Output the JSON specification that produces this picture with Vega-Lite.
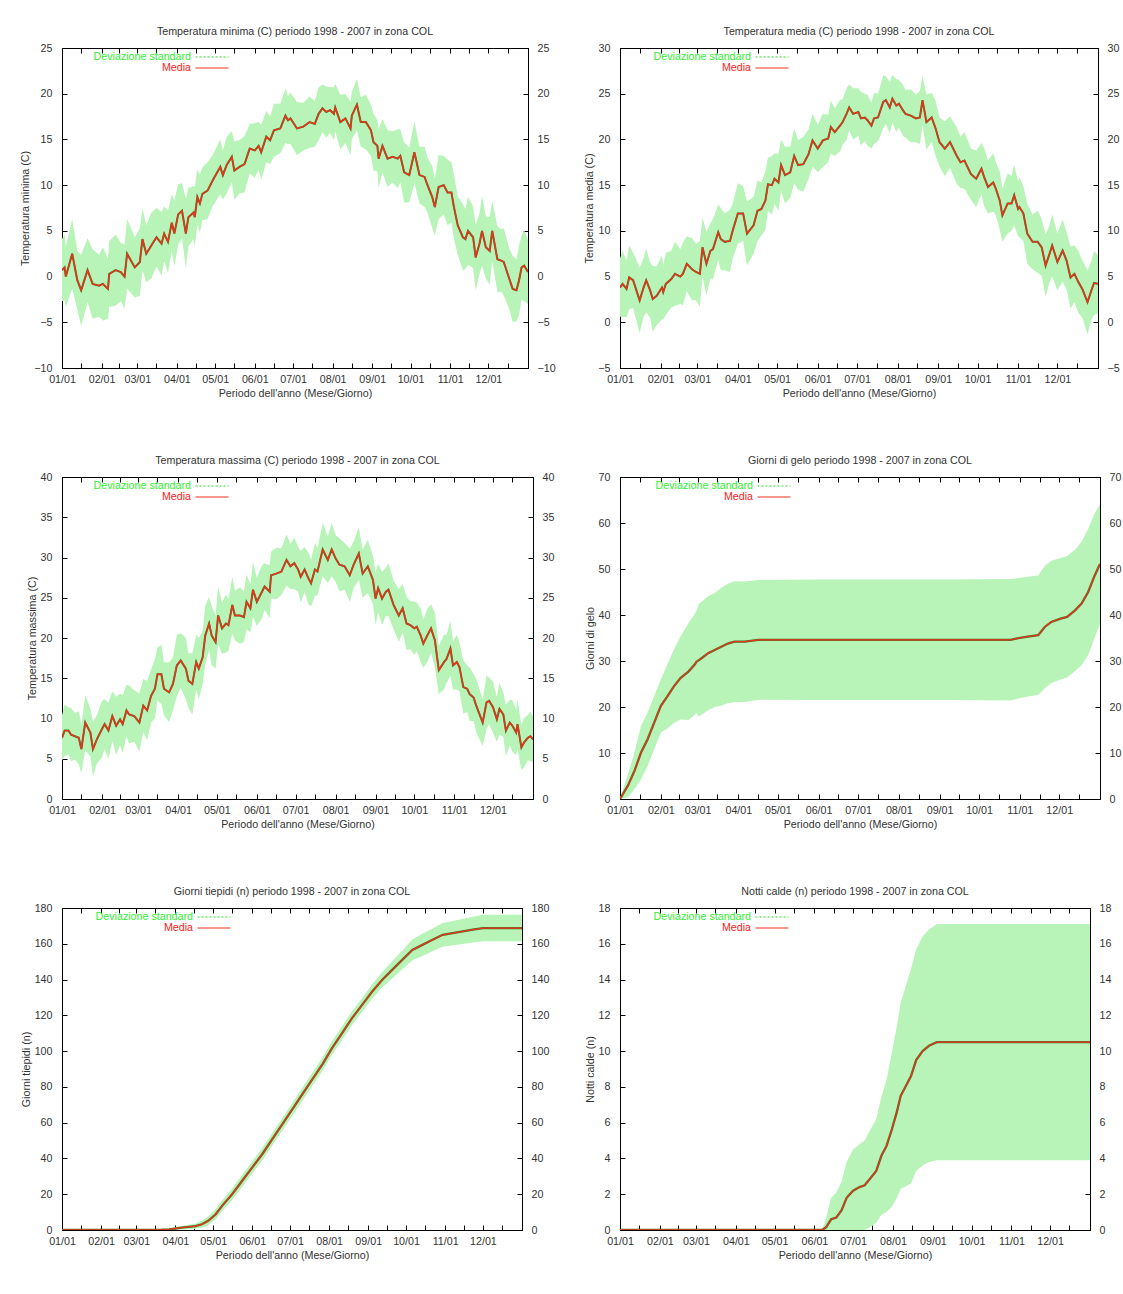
{
"$schema": "https://vega.github.io/schema/vega-lite/v6.json",
"padding": {"left": 19, "top": 25, "right": 5, "bottom": 5},
"background": "white",
"columns": 2,
"align": "each",
"bounds": "flush",
"spacing": {"row": 109, "column": 87},
"resolve": {"scale": {"color": "independent"}, "legend": {"color": "independent"}},
"datasets": {
"p1": [{"d":0,"m":0.7,"s":3.4},{"d":2,"m":1.0,"s":3.6},{"d":3,"m":0.0,"s":3.3},{"d":8,"m":2.5,"s":3.8},{"d":12,"m":-0.4,"s":3.2},{"d":15,"m":-1.5,"s":3.9},{"d":20,"m":0.7,"s":3.5},{"d":24,"m":-0.8,"s":3.8},{"d":29,"m":-1.0,"s":3.4},{"d":32,"m":-0.8,"s":4.0},{"d":36,"m":-1.35,"s":3.3},{"d":37,"m":0.3,"s":3.6},{"d":42,"m":0.7,"s":3.9},{"d":46,"m":0.5,"s":3.2},{"d":49,"m":0.0,"s":3.5},{"d":51,"m":2.5,"s":3.8},{"d":57,"m":1.0,"s":3.3},{"d":61,"m":1.6,"s":3.7},{"d":63,"m":4.1,"s":3.4},{"d":66,"m":2.5,"s":3.1},{"d":70,"m":3.4,"s":3.6},{"d":74,"m":4.3,"s":3.2},{"d":78,"m":3.6,"s":3.5},{"d":80,"m":4.7,"s":3.0},{"d":83,"m":3.8,"s":3.4},{"d":86,"m":5.9,"s":3.1},{"d":88,"m":4.7,"s":3.6},{"d":91,"m":6.8,"s":3.3},{"d":94,"m":7.2,"s":3.0},{"d":97,"m":4.7,"s":3.8},{"d":99,"m":6.5,"s":3.2},{"d":103,"m":7.0,"s":2.9},{"d":104,"m":6.5,"s":3.3},{"d":106,"m":8.7,"s":3.0},{"d":108,"m":8.0,"s":3.2},{"d":110,"m":9.05,"s":2.9},{"d":114,"m":9.4,"s":3.1},{"d":118,"m":10.5,"s":2.8},{"d":124,"m":12.0,"s":3.0},{"d":126,"m":11.1,"s":2.7},{"d":129,"m":12.2,"s":3.1},{"d":133,"m":13.1,"s":2.8},{"d":135,"m":11.6,"s":3.2},{"d":139,"m":12.0,"s":2.9},{"d":143,"m":12.3,"s":3.1},{"d":147,"m":14.0,"s":2.7},{"d":151,"m":13.8,"s":3.0},{"d":154,"m":14.3,"s":2.6},{"d":156,"m":13.6,"s":3.0},{"d":160,"m":15.3,"s":2.8},{"d":163,"m":14.9,"s":2.6},{"d":166,"m":16.0,"s":2.9},{"d":171,"m":16.2,"s":2.7},{"d":175,"m":17.6,"s":3.0},{"d":177,"m":17.1,"s":2.6},{"d":179,"m":17.3,"s":2.8},{"d":184,"m":16.2,"s":2.9},{"d":189,"m":16.4,"s":2.6},{"d":194,"m":16.9,"s":2.8},{"d":198,"m":16.7,"s":2.5},{"d":201,"m":17.8,"s":2.9},{"d":204,"m":18.4,"s":2.6},{"d":207,"m":18.0,"s":2.8},{"d":210,"m":18.2,"s":2.5},{"d":213,"m":17.8,"s":2.9},{"d":214,"m":18.5,"s":2.6},{"d":218,"m":16.9,"s":3.0},{"d":222,"m":17.3,"s":2.7},{"d":226,"m":16.2,"s":2.9},{"d":227,"m":17.6,"s":2.6},{"d":231,"m":18.8,"s":2.8},{"d":234,"m":16.9,"s":2.7},{"d":238,"m":16.9,"s":3.0},{"d":242,"m":16.0,"s":2.8},{"d":244,"m":14.7,"s":3.1},{"d":247,"m":14.3,"s":2.8},{"d":248,"m":12.9,"s":3.2},{"d":251,"m":14.3,"s":2.9},{"d":255,"m":12.9,"s":3.1},{"d":259,"m":13.1,"s":2.8},{"d":263,"m":12.9,"s":3.2},{"d":265,"m":13.2,"s":2.9},{"d":268,"m":11.4,"s":3.3},{"d":272,"m":11.1,"s":3.0},{"d":276,"m":13.6,"s":3.4},{"d":280,"m":11.1,"s":3.1},{"d":284,"m":10.9,"s":3.3},{"d":286,"m":10.1,"s":3.0},{"d":290,"m":8.7,"s":3.4},{"d":292,"m":7.6,"s":3.1},{"d":295,"m":9.8,"s":3.5},{"d":299,"m":10.0,"s":3.2},{"d":302,"m":9.2,"s":3.6},{"d":305,"m":9.2,"s":3.3},{"d":307,"m":7.6,"s":3.5},{"d":310,"m":5.6,"s":3.2},{"d":314,"m":4.3,"s":3.6},{"d":316,"m":4.1,"s":3.3},{"d":318,"m":5.0,"s":3.7},{"d":322,"m":4.3,"s":3.4},{"d":324,"m":2.1,"s":3.6},{"d":327,"m":3.6,"s":3.3},{"d":329,"m":5.0,"s":3.8},{"d":332,"m":3.2,"s":3.4},{"d":335,"m":2.8,"s":3.7},{"d":337,"m":5.0,"s":3.3},{"d":341,"m":1.9,"s":3.6},{"d":344,"m":1.75,"s":3.4},{"d":346,"m":1.6,"s":3.7},{"d":350,"m":-0.1,"s":3.3},{"d":353,"m":-1.35,"s":3.6},{"d":356,"m":-1.5,"s":3.4},{"d":358,"m":-0.4,"s":3.8},{"d":360,"m":1.0,"s":3.5},{"d":362,"m":1.2,"s":3.9},{"d":365,"m":0.5,"s":3.5}],
"p2": [{"d":0,"m":3.8,"s":3.2},{"d":2,"m":4.2,"s":3.6},{"d":5,"m":3.65,"s":3.1},{"d":7,"m":4.9,"s":3.5},{"d":10,"m":4.6,"s":3.0},{"d":15,"m":2.4,"s":3.6},{"d":18,"m":3.8,"s":3.2},{"d":20,"m":4.6,"s":3.5},{"d":23,"m":3.5,"s":3.0},{"d":25,"m":2.55,"s":3.6},{"d":28,"m":2.9,"s":3.2},{"d":32,"m":3.8,"s":3.5},{"d":33,"m":3.3,"s":3.0},{"d":35,"m":4.2,"s":3.4},{"d":39,"m":4.7,"s":3.1},{"d":42,"m":5.3,"s":3.5},{"d":46,"m":5.0,"s":3.0},{"d":48,"m":5.3,"s":3.4},{"d":51,"m":6.4,"s":3.0},{"d":55,"m":5.8,"s":3.4},{"d":58,"m":5.5,"s":3.1},{"d":61,"m":5.3,"s":3.6},{"d":63,"m":8.2,"s":3.2},{"d":66,"m":6.4,"s":3.5},{"d":69,"m":7.8,"s":3.0},{"d":71,"m":8.0,"s":3.3},{"d":75,"m":9.85,"s":3.0},{"d":77,"m":9.1,"s":3.4},{"d":80,"m":8.8,"s":3.1},{"d":84,"m":8.9,"s":3.4},{"d":86,"m":10.0,"s":3.0},{"d":90,"m":11.9,"s":3.3},{"d":94,"m":11.9,"s":3.0},{"d":97,"m":9.7,"s":3.5},{"d":102,"m":10.6,"s":3.1},{"d":105,"m":12.2,"s":3.3},{"d":108,"m":12.4,"s":2.9},{"d":111,"m":13.3,"s":3.2},{"d":113,"m":15.1,"s":2.9},{"d":116,"m":15.0,"s":3.2},{"d":118,"m":15.7,"s":2.8},{"d":121,"m":15.3,"s":3.1},{"d":123,"m":17.2,"s":2.8},{"d":126,"m":16.1,"s":3.1},{"d":130,"m":16.4,"s":2.8},{"d":133,"m":18.2,"s":3.0},{"d":136,"m":17.2,"s":2.7},{"d":140,"m":17.3,"s":3.0},{"d":144,"m":18.4,"s":2.7},{"d":147,"m":19.9,"s":2.9},{"d":151,"m":19.0,"s":2.6},{"d":155,"m":19.9,"s":2.9},{"d":159,"m":20.1,"s":2.6},{"d":161,"m":21.35,"s":2.9},{"d":164,"m":20.8,"s":2.6},{"d":168,"m":21.5,"s":2.8},{"d":170,"m":21.9,"s":2.5},{"d":173,"m":22.8,"s":2.8},{"d":175,"m":23.5,"s":2.5},{"d":178,"m":22.8,"s":2.8},{"d":182,"m":23.0,"s":2.6},{"d":184,"m":22.3,"s":2.9},{"d":187,"m":22.4,"s":2.6},{"d":189,"m":22.1,"s":2.8},{"d":192,"m":21.5,"s":2.5},{"d":194,"m":22.3,"s":2.8},{"d":197,"m":22.4,"s":2.6},{"d":201,"m":24.1,"s":2.9},{"d":203,"m":24.3,"s":2.6},{"d":206,"m":23.5,"s":2.8},{"d":208,"m":24.45,"s":2.6},{"d":211,"m":23.7,"s":2.9},{"d":213,"m":23.9,"s":2.6},{"d":216,"m":23.2,"s":2.8},{"d":218,"m":22.8,"s":2.6},{"d":222,"m":22.6,"s":2.9},{"d":226,"m":22.3,"s":2.6},{"d":229,"m":22.4,"s":2.9},{"d":231,"m":24.3,"s":2.7},{"d":234,"m":21.9,"s":3.0},{"d":238,"m":22.4,"s":2.7},{"d":241,"m":21.2,"s":3.0},{"d":244,"m":19.7,"s":2.7},{"d":248,"m":19.0,"s":3.0},{"d":252,"m":19.7,"s":2.8},{"d":257,"m":18.25,"s":3.1},{"d":260,"m":17.5,"s":2.8},{"d":263,"m":17.7,"s":3.1},{"d":268,"m":16.2,"s":2.8},{"d":272,"m":15.7,"s":3.1},{"d":276,"m":16.8,"s":2.8},{"d":278,"m":15.9,"s":3.2},{"d":281,"m":14.8,"s":2.9},{"d":285,"m":15.3,"s":3.2},{"d":287,"m":14.6,"s":2.9},{"d":290,"m":13.3,"s":3.2},{"d":292,"m":11.7,"s":2.9},{"d":296,"m":13.0,"s":3.3},{"d":299,"m":13.0,"s":3.0},{"d":301,"m":13.9,"s":3.3},{"d":304,"m":12.4,"s":3.0},{"d":305,"m":12.6,"s":3.3},{"d":308,"m":11.9,"s":3.0},{"d":311,"m":9.7,"s":3.3},{"d":315,"m":8.8,"s":3.0},{"d":319,"m":8.8,"s":3.4},{"d":322,"m":8.2,"s":3.1},{"d":325,"m":6.2,"s":3.4},{"d":328,"m":7.5,"s":3.1},{"d":330,"m":8.4,"s":3.4},{"d":334,"m":6.6,"s":3.1},{"d":338,"m":7.85,"s":3.4},{"d":341,"m":6.75,"s":3.1},{"d":344,"m":4.9,"s":3.4},{"d":347,"m":5.3,"s":3.1},{"d":350,"m":4.4,"s":3.4},{"d":353,"m":3.65,"s":3.1},{"d":357,"m":2.2,"s":3.5},{"d":360,"m":3.5,"s":3.2},{"d":362,"m":4.3,"s":3.5},{"d":365,"m":4.2,"s":3.2}],
"p3": [{"d":0,"m":7.6,"s":2.8},{"d":2,"m":8.5,"s":3.2},{"d":5,"m":8.5,"s":2.9},{"d":7,"m":8.0,"s":3.3},{"d":10,"m":7.8,"s":2.9},{"d":13,"m":7.6,"s":3.3},{"d":15,"m":6.2,"s":3.0},{"d":18,"m":9.5,"s":3.4},{"d":22,"m":8.25,"s":3.0},{"d":24,"m":6.2,"s":3.4},{"d":27,"m":7.4,"s":3.0},{"d":31,"m":8.7,"s":3.5},{"d":33,"m":9.3,"s":3.1},{"d":36,"m":8.5,"s":3.5},{"d":39,"m":10.3,"s":3.1},{"d":42,"m":9.1,"s":3.6},{"d":45,"m":9.9,"s":3.2},{"d":47,"m":9.3,"s":3.6},{"d":50,"m":11.0,"s":3.2},{"d":52,"m":10.5,"s":3.6},{"d":56,"m":10.3,"s":3.2},{"d":60,"m":9.5,"s":3.6},{"d":63,"m":11.6,"s":3.3},{"d":66,"m":11.0,"s":3.7},{"d":69,"m":12.8,"s":3.3},{"d":72,"m":13.7,"s":3.7},{"d":74,"m":15.5,"s":3.3},{"d":77,"m":15.5,"s":3.7},{"d":79,"m":13.7,"s":3.3},{"d":83,"m":13.25,"s":3.7},{"d":86,"m":14.3,"s":3.3},{"d":89,"m":16.6,"s":3.8},{"d":92,"m":17.2,"s":3.4},{"d":96,"m":16.2,"s":3.8},{"d":98,"m":14.7,"s":3.4},{"d":101,"m":14.3,"s":3.8},{"d":104,"m":17.0,"s":3.4},{"d":106,"m":16.2,"s":3.8},{"d":109,"m":17.6,"s":3.3},{"d":111,"m":20.3,"s":3.7},{"d":114,"m":21.8,"s":3.3},{"d":116,"m":20.3,"s":3.7},{"d":119,"m":19.5,"s":3.3},{"d":121,"m":22.8,"s":3.6},{"d":124,"m":21.2,"s":3.2},{"d":127,"m":21.8,"s":3.6},{"d":129,"m":21.6,"s":3.2},{"d":132,"m":24.1,"s":3.5},{"d":134,"m":22.8,"s":3.1},{"d":138,"m":22.8,"s":3.5},{"d":141,"m":22.6,"s":3.1},{"d":143,"m":24.5,"s":3.4},{"d":146,"m":23.7,"s":3.0},{"d":148,"m":26.0,"s":3.4},{"d":151,"m":24.5,"s":3.0},{"d":155,"m":25.75,"s":3.3},{"d":157,"m":26.4,"s":2.9},{"d":161,"m":25.75,"s":3.3},{"d":162,"m":27.8,"s":2.9},{"d":166,"m":28.0,"s":3.2},{"d":170,"m":28.25,"s":2.9},{"d":174,"m":29.7,"s":3.2},{"d":177,"m":28.9,"s":2.8},{"d":180,"m":29.3,"s":3.2},{"d":183,"m":28.5,"s":2.8},{"d":185,"m":27.6,"s":3.2},{"d":188,"m":28.5,"s":2.8},{"d":191,"m":27.4,"s":3.2},{"d":193,"m":26.8,"s":2.9},{"d":196,"m":28.5,"s":3.3},{"d":198,"m":28.25,"s":2.9},{"d":202,"m":31.0,"s":3.3},{"d":206,"m":29.7,"s":2.9},{"d":209,"m":31.0,"s":3.3},{"d":212,"m":29.9,"s":2.9},{"d":215,"m":29.1,"s":3.3},{"d":219,"m":28.9,"s":2.9},{"d":223,"m":27.8,"s":3.3},{"d":226,"m":29.1,"s":2.9},{"d":230,"m":30.5,"s":3.3},{"d":233,"m":28.0,"s":3.0},{"d":237,"m":28.9,"s":3.3},{"d":241,"m":27.2,"s":3.0},{"d":243,"m":24.9,"s":3.3},{"d":245,"m":26.2,"s":3.0},{"d":248,"m":24.9,"s":3.3},{"d":251,"m":25.75,"s":3.0},{"d":253,"m":26.0,"s":3.3},{"d":257,"m":24.1,"s":3.0},{"d":261,"m":22.8,"s":3.3},{"d":264,"m":23.7,"s":3.0},{"d":267,"m":21.8,"s":3.3},{"d":270,"m":21.6,"s":3.0},{"d":273,"m":21.2,"s":3.3},{"d":275,"m":21.4,"s":3.0},{"d":278,"m":20.3,"s":3.3},{"d":280,"m":19.3,"s":3.0},{"d":283,"m":20.3,"s":3.3},{"d":286,"m":21.2,"s":3.0},{"d":289,"m":19.7,"s":3.4},{"d":292,"m":16.0,"s":3.0},{"d":296,"m":17.0,"s":3.4},{"d":298,"m":17.4,"s":3.0},{"d":301,"m":18.7,"s":3.4},{"d":303,"m":16.6,"s":3.0},{"d":306,"m":17.0,"s":3.4},{"d":308,"m":16.4,"s":3.0},{"d":311,"m":13.9,"s":3.3},{"d":314,"m":13.7,"s":2.9},{"d":316,"m":13.0,"s":3.3},{"d":319,"m":12.6,"s":2.9},{"d":321,"m":11.6,"s":3.3},{"d":326,"m":9.5,"s":2.9},{"d":329,"m":12.0,"s":3.3},{"d":331,"m":12.2,"s":2.9},{"d":334,"m":11.4,"s":3.2},{"d":337,"m":9.9,"s":2.8},{"d":339,"m":11.2,"s":3.2},{"d":342,"m":10.5,"s":2.8},{"d":344,"m":8.5,"s":3.2},{"d":347,"m":9.5,"s":2.8},{"d":349,"m":9.1,"s":3.2},{"d":352,"m":8.25,"s":2.8},{"d":353,"m":9.3,"s":3.1},{"d":356,"m":6.4,"s":2.8},{"d":358,"m":7.0,"s":3.1},{"d":361,"m":7.6,"s":2.8},{"d":363,"m":7.8,"s":3.1},{"d":365,"m":7.4,"s":2.8}],
"p4": [{"d":0,"m":0,"s":0},{"d":6,"m":2.9,"s":2.5},{"d":11,"m":6.1,"s":4.0},{"d":16,"m":10.1,"s":5.8},{"d":21,"m":13.0,"s":5.8},{"d":26,"m":16.6,"s":5.8},{"d":31,"m":20.2,"s":5.8},{"d":36,"m":22.3,"s":7.0},{"d":41,"m":24.5,"s":8.0},{"d":46,"m":26.3,"s":9.0},{"d":52,"m":27.7,"s":10.5},{"d":57,"m":29.3,"s":11.0},{"d":58,"m":29.8,"s":11.0},{"d":60,"m":30.2,"s":12.3},{"d":62,"m":30.6,"s":12.3},{"d":67,"m":31.7,"s":12.4},{"d":72,"m":32.4,"s":12.4},{"d":77,"m":33.1,"s":12.8},{"d":82,"m":33.8,"s":13.0},{"d":87,"m":34.2,"s":13.15},{"d":95,"m":34.2,"s":13.1},{"d":105,"m":34.6,"s":13.0},{"d":150,"m":34.6,"s":13.1},{"d":200,"m":34.6,"s":13.1},{"d":250,"m":34.6,"s":13.1},{"d":297,"m":34.6,"s":13.2},{"d":302,"m":34.9,"s":13.1},{"d":310,"m":35.3,"s":13.0},{"d":318,"m":35.6,"s":13.0},{"d":323,"m":37.4,"s":13.3},{"d":328,"m":38.5,"s":13.3},{"d":335,"m":39.2,"s":13.2},{"d":340,"m":39.6,"s":13.2},{"d":346,"m":41.0,"s":13.2},{"d":351,"m":42.5,"s":13.4},{"d":356,"m":45.0,"s":13.7},{"d":361,"m":48.6,"s":13.5},{"d":365,"m":51.1,"s":13.0}],
"p5": [{"d":0,"m":0,"s":0},{"d":40,"m":0,"s":0},{"d":79,"m":0.2,"s":0.3},{"d":85,"m":0.4,"s":0.5},{"d":95,"m":1.3,"s":1.0},{"d":106,"m":2.2,"s":1.5},{"d":111,"m":3.2,"s":2.0},{"d":116,"m":5.1,"s":2.5},{"d":122,"m":8.8,"s":3.0},{"d":127,"m":13.5,"s":3.0},{"d":135,"m":20.0,"s":3.2},{"d":143,"m":27.5,"s":3.3},{"d":151,"m":35.0,"s":3.4},{"d":159,"m":42.5,"s":3.5},{"d":167,"m":50.9,"s":3.5},{"d":175,"m":59.3,"s":3.5},{"d":183,"m":67.7,"s":3.6},{"d":191,"m":76.2,"s":3.6},{"d":199,"m":84.6,"s":3.7},{"d":207,"m":93.0,"s":3.7},{"d":214,"m":101.4,"s":3.8},{"d":222,"m":109.8,"s":3.8},{"d":230,"m":118.3,"s":3.9},{"d":238,"m":125.7,"s":3.9},{"d":246,"m":133.2,"s":4.0},{"d":254,"m":139.8,"s":4.3},{"d":262,"m":145.4,"s":4.8},{"d":270,"m":151.0,"s":5.3},{"d":278,"m":156.6,"s":5.8},{"d":286,"m":159.4,"s":6.2},{"d":294,"m":162.2,"s":6.4},{"d":302,"m":165.0,"s":6.6},{"d":310,"m":166.0,"s":6.8},{"d":318,"m":166.9,"s":7.0},{"d":326,"m":167.9,"s":7.2},{"d":334,"m":168.8,"s":7.4},{"d":347,"m":168.8,"s":7.4},{"d":365,"m":168.8,"s":7.4}],
"p6": [{"d":0,"m":0,"s":0},{"d":100,"m":0,"s":0},{"d":157,"m":0,"s":0},{"d":160,"m":0.15,"s":0.5},{"d":164,"m":0.6,"s":1.2},{"d":168,"m":0.7,"s":1.4},{"d":172,"m":1.1,"s":1.6},{"d":176,"m":1.8,"s":2.0},{"d":181,"m":2.2,"s":2.3},{"d":186,"m":2.4,"s":2.4},{"d":190,"m":2.5,"s":2.5},{"d":194,"m":2.85,"s":2.7},{"d":199,"m":3.3,"s":2.9},{"d":203,"m":4.15,"s":3.3},{"d":207,"m":4.7,"s":3.7},{"d":211,"m":5.6,"s":4.3},{"d":215,"m":6.6,"s":4.8},{"d":218,"m":7.5,"s":5.2},{"d":222,"m":8.05,"s":5.6},{"d":226,"m":8.6,"s":6.0},{"d":230,"m":9.5,"s":6.2},{"d":235,"m":10.0,"s":6.4},{"d":240,"m":10.3,"s":6.5},{"d":246,"m":10.5,"s":6.6},{"d":251,"m":10.5,"s":6.6},{"d":300,"m":10.5,"s":6.6},{"d":365,"m":10.5,"s":6.6}]
},
"concat": [
{"title": "Temperatura minima (C) periodo 1998 - 2007 in zona COL", "width": 466, "height": 320, "data": {"name": "p1"},
 "layer": [
  {"mark": {"type": "errorband", "borders": false, "band": {"color": "#b8f3b8", "opacity": 1}, "clip": true},
   "encoding": {"x": {"field": "d", "type": "quantitative", "scale": {"domain": [0, 365], "nice": false, "zero": false}, "axis": {"orient": "bottom", "title": "Periodo dell'anno (Mese/Giorno)", "values": [0,15,31,45,59,74,90,105,120,135,151,166,181,196,212,227,243,258,273,288,304,319,334,349], "labelExpr": "indexof([0,31,59,90,120,151,181,212,243,273,304,334], datum.value) >= 0 ? timeFormat(datetime(2001,0,1+datum.value),'%m/%d') : ''", "labelFlush": false, "labelOverlap": false}},
    "y": {"field": "m", "type": "quantitative", "scale": {"domain": [-10, 25], "nice": false, "zero": false}, "axis": {"orient": "left", "title": "Temperatura minima (C)", "values": [-10,-5,0,5,10,15,20,25]}},
    "yError": {"field": "s"}}},
  {"mark": {"type": "line", "color": "#3f7a28", "strokeWidth": 2.0, "clip": true},
   "encoding": {"x": {"field": "d", "type": "quantitative", "axis": {"orient": "top", "labels": false, "title": null, "values": [0,15,31,45,59,74,90,105,120,135,151,166,181,196,212,227,243,258,273,288,304,319,334,349]}},
    "y": {"field": "m", "type": "quantitative", "axis": {"orient": "right", "title": null, "values": [-10,-5,0,5,10,15,20,25]}}}},
  {"mark": {"type": "line", "strokeWidth": 1.4, "clip": true},
   "encoding": {"x": {"field": "d", "type": "quantitative", "axis": null}, "y": {"field": "m", "type": "quantitative", "axis": null},
    "color": {"datum": "Media", "scale": {"domain": ["Deviazione standard", "Media"], "range": ["#22dd22", "#f0301a"]}, "legend": {"title": null, "orient": "none", "legendX": 144, "legendY": 3}}}}
 ],
 "resolve": {"axis": {"x": "independent", "y": "independent"}}},
{"title": "Temperatura media (C) periodo 1998 - 2007 in zona COL", "width": 478, "height": 320, "data": {"name": "p2"},
 "layer": [
  {"mark": {"type": "errorband", "borders": false, "band": {"color": "#b8f3b8", "opacity": 1}, "clip": true},
   "encoding": {"x": {"field": "d", "type": "quantitative", "scale": {"domain": [0, 365], "nice": false, "zero": false}, "axis": {"orient": "bottom", "title": "Periodo dell'anno (Mese/Giorno)", "values": [0,15,31,45,59,74,90,105,120,135,151,166,181,196,212,227,243,258,273,288,304,319,334,349], "labelExpr": "indexof([0,31,59,90,120,151,181,212,243,273,304,334], datum.value) >= 0 ? timeFormat(datetime(2001,0,1+datum.value),'%m/%d') : ''", "labelFlush": false, "labelOverlap": false}},
    "y": {"field": "m", "type": "quantitative", "scale": {"domain": [-5, 30], "nice": false, "zero": false}, "axis": {"orient": "left", "title": "Temperatura media (C)", "values": [-5,0,5,10,15,20,25,30]}},
    "yError": {"field": "s"}}},
  {"mark": {"type": "line", "color": "#3f7a28", "strokeWidth": 2.0, "clip": true},
   "encoding": {"x": {"field": "d", "type": "quantitative", "axis": {"orient": "top", "labels": false, "title": null, "values": [0,15,31,45,59,74,90,105,120,135,151,166,181,196,212,227,243,258,273,288,304,319,334,349]}},
    "y": {"field": "m", "type": "quantitative", "axis": {"orient": "right", "title": null, "values": [-5,0,5,10,15,20,25,30]}}}},
  {"mark": {"type": "line", "strokeWidth": 1.4, "clip": true},
   "encoding": {"x": {"field": "d", "type": "quantitative", "axis": null}, "y": {"field": "m", "type": "quantitative", "axis": null},
    "color": {"datum": "Media", "scale": {"domain": ["Deviazione standard", "Media"], "range": ["#22dd22", "#f0301a"]}, "legend": {"title": null, "orient": "none", "legendX": 146, "legendY": 3}}}}
 ],
 "resolve": {"axis": {"x": "independent", "y": "independent"}}},
{"title": "Temperatura massima (C) periodo 1998 - 2007 in zona COL", "width": 471, "height": 322, "data": {"name": "p3"},
 "layer": [
  {"mark": {"type": "errorband", "borders": false, "band": {"color": "#b8f3b8", "opacity": 1}, "clip": true},
   "encoding": {"x": {"field": "d", "type": "quantitative", "scale": {"domain": [0, 365], "nice": false, "zero": false}, "axis": {"orient": "bottom", "title": "Periodo dell'anno (Mese/Giorno)", "values": [0,15,31,45,59,74,90,105,120,135,151,166,181,196,212,227,243,258,273,288,304,319,334,349], "labelExpr": "indexof([0,31,59,90,120,151,181,212,243,273,304,334], datum.value) >= 0 ? timeFormat(datetime(2001,0,1+datum.value),'%m/%d') : ''", "labelFlush": false, "labelOverlap": false}},
    "y": {"field": "m", "type": "quantitative", "scale": {"domain": [0, 40], "nice": false, "zero": false}, "axis": {"orient": "left", "title": "Temperatura massima (C)", "values": [0,5,10,15,20,25,30,35,40]}},
    "yError": {"field": "s"}}},
  {"mark": {"type": "line", "color": "#3f7a28", "strokeWidth": 2.0, "clip": true},
   "encoding": {"x": {"field": "d", "type": "quantitative", "axis": {"orient": "top", "labels": false, "title": null, "values": [0,15,31,45,59,74,90,105,120,135,151,166,181,196,212,227,243,258,273,288,304,319,334,349]}},
    "y": {"field": "m", "type": "quantitative", "axis": {"orient": "right", "title": null, "values": [0,5,10,15,20,25,30,35,40]}}}},
  {"mark": {"type": "line", "strokeWidth": 1.4, "clip": true},
   "encoding": {"x": {"field": "d", "type": "quantitative", "axis": null}, "y": {"field": "m", "type": "quantitative", "axis": null},
    "color": {"datum": "Media", "scale": {"domain": ["Deviazione standard", "Media"], "range": ["#22dd22", "#f0301a"]}, "legend": {"title": null, "orient": "none", "legendX": 144, "legendY": 3}}}}
 ],
 "resolve": {"axis": {"x": "independent", "y": "independent"}}},
{"title": "Giorni di gelo periodo 1998 - 2007 in zona COL", "width": 480, "height": 322, "data": {"name": "p4"},
 "layer": [
  {"mark": {"type": "errorband", "borders": false, "band": {"color": "#b8f3b8", "opacity": 1}, "clip": true},
   "encoding": {"x": {"field": "d", "type": "quantitative", "scale": {"domain": [0, 365], "nice": false, "zero": false}, "axis": {"orient": "bottom", "title": "Periodo dell'anno (Mese/Giorno)", "values": [0,15,31,45,59,74,90,105,120,135,151,166,181,196,212,227,243,258,273,288,304,319,334,349], "labelExpr": "indexof([0,31,59,90,120,151,181,212,243,273,304,334], datum.value) >= 0 ? timeFormat(datetime(2001,0,1+datum.value),'%m/%d') : ''", "labelFlush": false, "labelOverlap": false}},
    "y": {"field": "m", "type": "quantitative", "scale": {"domain": [0, 70], "nice": false, "zero": false}, "axis": {"orient": "left", "title": "Giorni di gelo", "values": [0,10,20,30,40,50,60,70]}},
    "yError": {"field": "s"}}},
  {"mark": {"type": "line", "color": "#3f7a28", "strokeWidth": 2.3, "clip": true},
   "encoding": {"x": {"field": "d", "type": "quantitative", "axis": {"orient": "top", "labels": false, "title": null, "values": [0,15,31,45,59,74,90,105,120,135,151,166,181,196,212,227,243,258,273,288,304,319,334,349]}},
    "y": {"field": "m", "type": "quantitative", "axis": {"orient": "right", "title": null, "values": [0,10,20,30,40,50,60,70]}}}},
  {"mark": {"type": "line", "strokeWidth": 1.3, "clip": true},
   "encoding": {"x": {"field": "d", "type": "quantitative", "axis": null}, "y": {"field": "m", "type": "quantitative", "axis": null},
    "color": {"datum": "Media", "scale": {"domain": ["Deviazione standard", "Media"], "range": ["#22dd22", "#f0301a"]}, "legend": {"title": null, "orient": "none", "legendX": 148, "legendY": 3}}}}
 ],
 "resolve": {"axis": {"x": "independent", "y": "independent"}}},
{"title": "Giorni tiepidi (n) periodo 1998 - 2007 in zona COL", "width": 460, "height": 322, "data": {"name": "p5"},
 "layer": [
  {"mark": {"type": "errorband", "borders": false, "band": {"color": "#b8f3b8", "opacity": 1}, "clip": true},
   "encoding": {"x": {"field": "d", "type": "quantitative", "scale": {"domain": [0, 365], "nice": false, "zero": false}, "axis": {"orient": "bottom", "title": "Periodo dell'anno (Mese/Giorno)", "values": [0,15,31,45,59,74,90,105,120,135,151,166,181,196,212,227,243,258,273,288,304,319,334,349], "labelExpr": "indexof([0,31,59,90,120,151,181,212,243,273,304,334], datum.value) >= 0 ? timeFormat(datetime(2001,0,1+datum.value),'%m/%d') : ''", "labelFlush": false, "labelOverlap": false}},
    "y": {"field": "m", "type": "quantitative", "scale": {"domain": [0, 180], "nice": false, "zero": false}, "axis": {"orient": "left", "title": "Giorni tiepidi (n)", "values": [0,20,40,60,80,100,120,140,160,180]}},
    "yError": {"field": "s"}}},
  {"mark": {"type": "line", "color": "#3f7a28", "strokeWidth": 2.3, "clip": true},
   "encoding": {"x": {"field": "d", "type": "quantitative", "axis": {"orient": "top", "labels": false, "title": null, "values": [0,15,31,45,59,74,90,105,120,135,151,166,181,196,212,227,243,258,273,288,304,319,334,349]}},
    "y": {"field": "m", "type": "quantitative", "axis": {"orient": "right", "title": null, "values": [0,20,40,60,80,100,120,140,160,180]}}}},
  {"mark": {"type": "line", "strokeWidth": 1.3, "clip": true},
   "encoding": {"x": {"field": "d", "type": "quantitative", "axis": null}, "y": {"field": "m", "type": "quantitative", "axis": null},
    "color": {"datum": "Media", "scale": {"domain": ["Deviazione standard", "Media"], "range": ["#22dd22", "#f0301a"]}, "legend": {"title": null, "orient": "none", "legendX": 146, "legendY": 3}}}}
 ],
 "resolve": {"axis": {"x": "independent", "y": "independent"}}},
{"title": "Notti calde (n) periodo 1998 - 2007 in zona COL", "width": 470, "height": 322, "data": {"name": "p6"},
 "layer": [
  {"mark": {"type": "errorband", "borders": false, "band": {"color": "#b8f3b8", "opacity": 1}, "clip": true},
   "encoding": {"x": {"field": "d", "type": "quantitative", "scale": {"domain": [0, 365], "nice": false, "zero": false}, "axis": {"orient": "bottom", "title": "Periodo dell'anno (Mese/Giorno)", "values": [0,15,31,45,59,74,90,105,120,135,151,166,181,196,212,227,243,258,273,288,304,319,334,349], "labelExpr": "indexof([0,31,59,90,120,151,181,212,243,273,304,334], datum.value) >= 0 ? timeFormat(datetime(2001,0,1+datum.value),'%m/%d') : ''", "labelFlush": false, "labelOverlap": false}},
    "y": {"field": "m", "type": "quantitative", "scale": {"domain": [0, 18], "nice": false, "zero": false}, "axis": {"orient": "left", "title": "Notti calde (n)", "values": [0,2,4,6,8,10,12,14,16,18]}},
    "yError": {"field": "s"}}},
  {"mark": {"type": "line", "color": "#3f7a28", "strokeWidth": 2.3, "clip": true},
   "encoding": {"x": {"field": "d", "type": "quantitative", "axis": {"orient": "top", "labels": false, "title": null, "values": [0,15,31,45,59,74,90,105,120,135,151,166,181,196,212,227,243,258,273,288,304,319,334,349]}},
    "y": {"field": "m", "type": "quantitative", "axis": {"orient": "right", "title": null, "values": [0,2,4,6,8,10,12,14,16,18]}}}},
  {"mark": {"type": "line", "strokeWidth": 1.3, "clip": true},
   "encoding": {"x": {"field": "d", "type": "quantitative", "axis": null}, "y": {"field": "m", "type": "quantitative", "axis": null},
    "color": {"datum": "Media", "scale": {"domain": ["Deviazione standard", "Media"], "range": ["#22dd22", "#f0301a"]}, "legend": {"title": null, "orient": "none", "legendX": 146, "legendY": 3}}}}
 ],
 "resolve": {"axis": {"x": "independent", "y": "independent"}}}
],
"config": {
 "font": "Liberation Sans",
 "view": {"stroke": "#000000", "strokeWidth": 1},
 "axis": {"grid": false, "domainColor": "#000000", "tickColor": "#000000", "tickSize": -5, "labelPadding": 10, "labelFontSize": 10.7, "labelColor": "#333333", "labelFont": "Liberation Sans", "titleFont": "Liberation Sans", "titleFontSize": 10.7, "titleFontWeight": "normal", "titleColor": "#333333"},
 "axisLeft": {"labelPadding": 15, "titlePadding": 3},
 "axisRight": {"labelPadding": 14},
 "axisBottom": {"labelPadding": 11, "titlePadding": 5},
 "title": {"fontSize": 10.7, "fontWeight": "normal", "color": "#333333", "font": "Liberation Sans", "offset": 4},
 "legend": {"symbolType": "M-3,0H3", "symbolSize": 121, "symbolStrokeWidth": 1, "labelFontSize": 10.7, "labelFont": "Liberation Sans", "labelAlign": "right", "labelOffset": -27, "rowPadding": 0, "padding": 0, "labelColor": {"expr": "datum.label === 'Media' ? '#ff2020' : '#33ee33'"}, "symbolDash": {"expr": "datum.label === 'Media' ? [] : [2, 2]"}}
}
}
